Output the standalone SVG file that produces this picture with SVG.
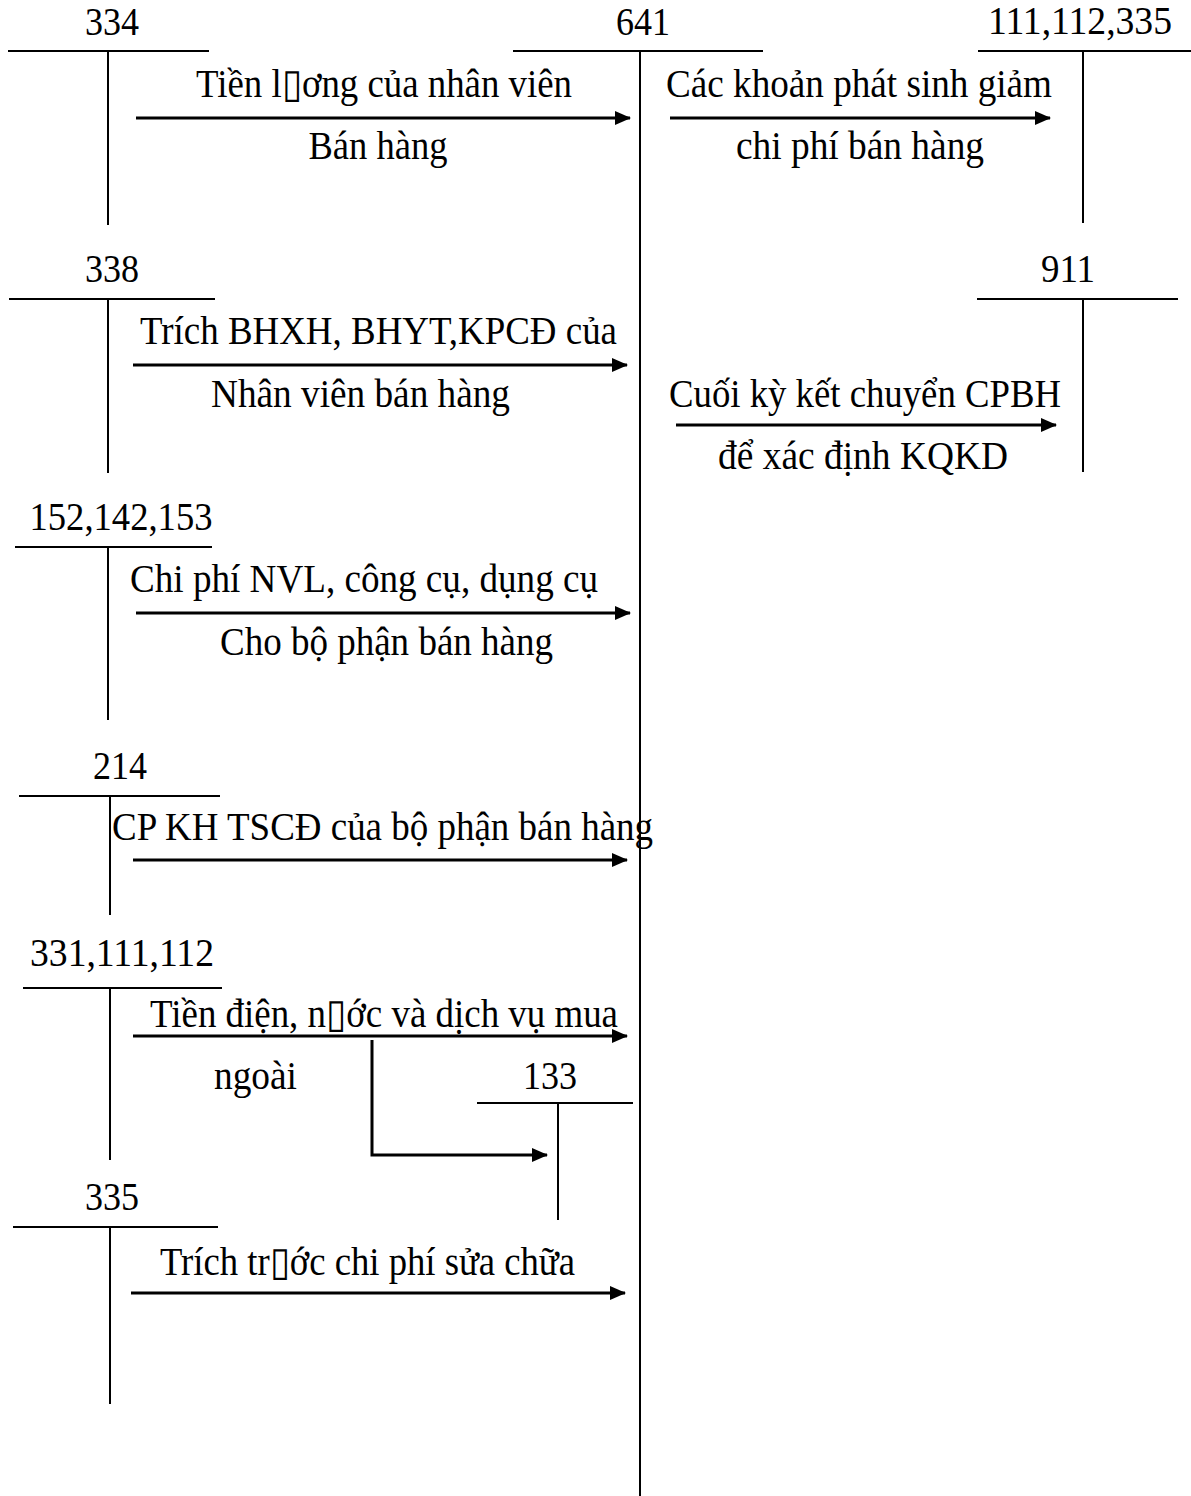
<svg xmlns="http://www.w3.org/2000/svg" width="1191" height="1496" viewBox="0 0 1191 1496">
<style>
text{font-family:"Liberation Serif","Times New Roman",serif;font-size:40px;fill:#000}
.ln{stroke:#000;stroke-width:2;fill:none}
.ar{stroke:#000;stroke-width:3;fill:none;marker-end:url(#ah)}
</style>
<defs>
<marker id="ah" markerUnits="userSpaceOnUse" markerWidth="16" markerHeight="16" refX="15" refY="8" orient="auto"><path d="M0,1 L16,8 L0,15 Z" fill="#000"/></marker>
</defs>
<rect width="1191" height="1496" fill="#fff"/>
<g id="acc334"><text x="112" y="35" text-anchor="middle" textLength="54" lengthAdjust="spacingAndGlyphs">334</text><path class="ln" d="M8,51H209M108,51V225"/></g>
<g id="acc641"><text x="643" y="35" text-anchor="middle" textLength="54" lengthAdjust="spacingAndGlyphs">641</text><path class="ln" d="M513,51H763M640,51V1496"/></g>
<g id="acc111"><text x="1080" y="34" text-anchor="middle" textLength="184" lengthAdjust="spacingAndGlyphs">111,112,335</text><path class="ln" d="M978,51H1191M1083,51V223"/></g>
<g id="acc338"><text x="112" y="282" text-anchor="middle" textLength="54" lengthAdjust="spacingAndGlyphs">338</text><path class="ln" d="M9,299H215M108,299V473"/></g>
<g id="acc911"><text x="1068" y="282" text-anchor="middle" textLength="54" lengthAdjust="spacingAndGlyphs">911</text><path class="ln" d="M977,299H1178M1083,299V472"/></g>
<g id="acc152"><text x="121" y="530" text-anchor="middle" textLength="183" lengthAdjust="spacingAndGlyphs">152,142,153</text><path class="ln" d="M15,547H212M108,547V720"/></g>
<g id="acc214"><text x="120" y="779" text-anchor="middle" textLength="54" lengthAdjust="spacingAndGlyphs">214</text><path class="ln" d="M19,796H220M110,796V915"/></g>
<g id="acc331"><text x="122" y="966" text-anchor="middle" textLength="184" lengthAdjust="spacingAndGlyphs">331,111,112</text><path class="ln" d="M23,988H222M110,988V1160"/></g>
<g id="acc133"><text x="550" y="1089" text-anchor="middle" textLength="54" lengthAdjust="spacingAndGlyphs">133</text><path class="ln" d="M477,1103H633M558,1103V1220"/></g>
<g id="acc335"><text x="112" y="1210" text-anchor="middle" textLength="54" lengthAdjust="spacingAndGlyphs">335</text><path class="ln" d="M13,1227H218M110,1227V1404"/></g>
<g id="connectors">
<path class="ar" d="M136,118H630"/>
<path class="ar" d="M670,118H1050"/>
<path class="ar" d="M133,365H627"/>
<path class="ar" d="M676,425H1056"/>
<path class="ar" d="M136,613H630"/>
<path class="ar" d="M133,860H627"/>
<path class="ar" d="M133,1036H627"/>
<path class="ar" d="M372,1040V1155H547"/>
<path class="ar" d="M131,1293H625"/>
</g>
<g id="labels">
<text x="196" y="97" textLength="376" lengthAdjust="spacingAndGlyphs">Tiền l▯ơng của nhân viên</text>
<text x="378" y="159" text-anchor="middle" textLength="139" lengthAdjust="spacingAndGlyphs">Bán hàng</text>
<text x="666" y="97" textLength="386" lengthAdjust="spacingAndGlyphs">Các khoản phát sinh giảm</text>
<text x="860" y="159" text-anchor="middle" textLength="248" lengthAdjust="spacingAndGlyphs">chi phí bán hàng</text>
<text x="140" y="344" textLength="477" lengthAdjust="spacingAndGlyphs">Trích BHXH, BHYT,KPCĐ của</text>
<text x="211" y="407" textLength="299" lengthAdjust="spacingAndGlyphs">Nhân viên bán hàng</text>
<text x="669" y="407" textLength="392" lengthAdjust="spacingAndGlyphs">Cuối kỳ kết chuyển CPBH</text>
<text x="718" y="469" textLength="290" lengthAdjust="spacingAndGlyphs">để xác định KQKD</text>
<text x="130" y="592" textLength="468" lengthAdjust="spacingAndGlyphs">Chi phí NVL, công cụ, dụng cụ</text>
<text x="220" y="655" textLength="333" lengthAdjust="spacingAndGlyphs">Cho bộ phận bán hàng</text>
<text x="112" y="840" textLength="541" lengthAdjust="spacingAndGlyphs">CP KH TSCĐ của bộ phận bán hàng</text>
<text x="150" y="1027" textLength="468" lengthAdjust="spacingAndGlyphs">Tiền điện, n▯ớc và dịch vụ mua</text>
<text x="214" y="1089" textLength="83" lengthAdjust="spacingAndGlyphs">ngoài</text>
<text x="160" y="1275" textLength="415" lengthAdjust="spacingAndGlyphs">Trích tr▯ớc chi phí sửa chữa</text>
</g>
</svg>
